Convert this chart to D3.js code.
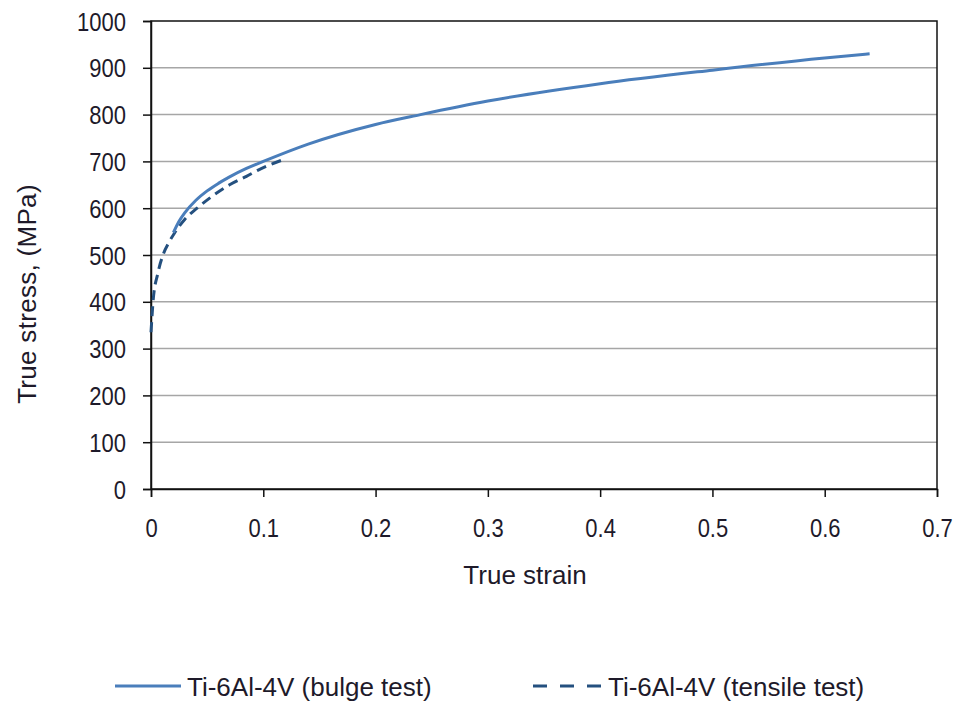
<!DOCTYPE html>
<html><head><meta charset="utf-8">
<script src="https://cdn.jsdelivr.net/npm/d3@7"></script>
<style>
html,body{margin:0;padding:0;background:#fff;}
svg{display:block;font-family:"Liberation Sans",Arial,sans-serif;}
</style></head>
<body>
<svg id="chart" width="956" height="702"></svg>
<script>
// ---- data ----
const bulgeStrain = [0.020,0.025,0.030,0.040,0.050,0.060,0.070,0.085,0.100,0.140,0.200,0.240,0.300,0.400,0.500,0.600,0.640];
const bulgeStress = [548,572,590,617,637,653,667,685,700,737,779,800,829,866,895,921,930];
const tensileStrain = [0.000,0.002,0.006,0.011,0.016,0.021,0.030,0.041,0.053,0.070,0.085,0.095,0.105,0.117];
const tensileStress = [335,405,460,502,527,547,576,600,623,650,668,681,692,703];
const xTicks = [0,0.1,0.2,0.3,0.4,0.5,0.6,0.7];
const yTicks = [0,100,200,300,400,500,600,700,800,900,1000];
const seriesNames = ["Ti-6Al-4V (bulge test)","Ti-6Al-4V (tensile test)"];
const xTitle = "True strain";
const yTitle = "True stress, (MPa)";

// ---- layout ----
const L=151, R=937, T=21, B=489;
const svg = d3.select("#chart");
const x = d3.scaleLinear().domain([0,0.7]).range([L,R]);
const y = d3.scaleLinear().domain([0,1000]).range([B,T]);
const textColor = "#1e1a2a";
const stretch = 1.14;

// gridlines
svg.append("g").selectAll("line").data(yTicks.filter(v=>v>0&&v<1000)).join("line")
  .attr("x1",L).attr("x2",R).attr("y1",d=>y(d)).attr("y2",d=>y(d))
  .attr("stroke","#a6a6a6").attr("stroke-width",1.5);

// frame
svg.append("rect").attr("x",L).attr("y",T).attr("width",R-L).attr("height",B-T)
  .attr("fill","none").attr("stroke","#111").attr("stroke-width",1.5);

// axes
const yAxis = d3.axisLeft(y).tickValues(yTicks).tickSize(8).tickPadding(17).tickFormat(d3.format("d"));
const gy = svg.append("g").attr("transform",`translate(${L},0)`).call(yAxis);
gy.select(".domain").attr("stroke","#111").attr("stroke-width",1.5);
gy.selectAll(".tick line").attr("stroke","#111").attr("stroke-width",1.5);
gy.selectAll(".tick text").attr("font-size",22).attr("fill",textColor)
  .attr("font-family","'Liberation Sans',Arial,sans-serif")
  .attr("x",-25).attr("y",0).attr("dy","0.36em")
  .attr("transform",`scale(1,${stretch})`);

const xAxis = d3.axisBottom(x).tickValues(xTicks).tickSize(8).tickPadding(20).tickFormat(d=>d===0?"0":d3.format(".1f")(d));
const gx = svg.append("g").attr("transform",`translate(0,${B})`).call(xAxis);
gx.select(".domain").attr("stroke","#111").attr("stroke-width",1.5);
gx.selectAll(".tick line").attr("stroke","#111").attr("stroke-width",1.5);
gx.selectAll(".tick text").attr("font-size",22).attr("fill",textColor)
  .attr("font-family","'Liberation Sans',Arial,sans-serif")
  .attr("y",0).attr("dy",0)
  .attr("transform",`translate(0,48) scale(1,${stretch})`);

// lines
const line = d3.line().x(d=>x(d[0])).y(d=>y(d[1])).curve(d3.curveMonotoneX);
const bulge = bulgeStrain.map((s,i)=>[s,bulgeStress[i]]);
const tensile = tensileStrain.map((s,i)=>[s,tensileStress[i]]);
svg.append("path").datum(tensile).attr("d",line).attr("fill","none")
  .attr("stroke","#24507f").attr("stroke-width",3).attr("stroke-dasharray","10,6");
svg.append("path").datum(bulge).attr("d",line).attr("fill","none")
  .attr("stroke","#4a7ebb").attr("stroke-width",3);

// axis titles
svg.append("text").attr("x",(L+R)/2-19).attr("y",584).attr("text-anchor","middle")
  .attr("font-size",26).attr("fill",textColor).text(xTitle);
svg.append("text").attr("transform","translate(36,294) rotate(-90)").attr("text-anchor","middle")
  .attr("font-size",26).attr("fill",textColor).attr("letter-spacing",0.3).text(yTitle);

// legend
const leg = svg.append("g");
leg.append("line").attr("x1",115).attr("x2",181).attr("y1",686).attr("y2",686)
  .attr("stroke","#4a7ebb").attr("stroke-width",3);
leg.append("text").attr("x",187).attr("y",696).attr("font-size",26).attr("fill",textColor).text(seriesNames[0]);
leg.append("line").attr("x1",533).attr("x2",602).attr("y1",686).attr("y2",686)
  .attr("stroke","#24507f").attr("stroke-width",3).attr("stroke-dasharray","14,13");
leg.append("text").attr("x",608).attr("y",696).attr("font-size",26).attr("fill",textColor).text(seriesNames[1]);
</script>
</body></html>
